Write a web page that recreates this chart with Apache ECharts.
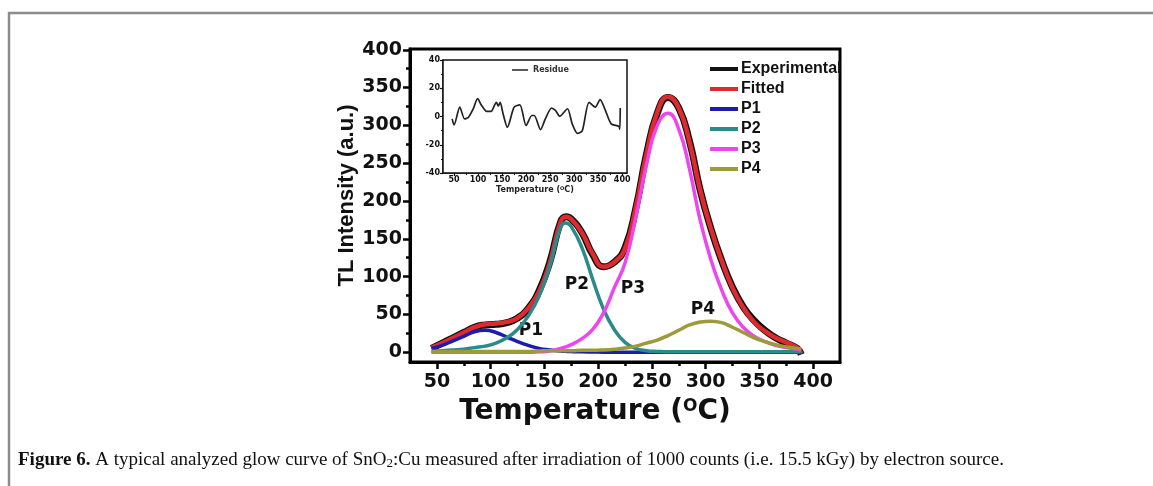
<!DOCTYPE html>
<html>
<head>
<meta charset="utf-8">
<script src="https://cdn.jsdelivr.net/npm/echarts@6/dist/echarts.min.js"></script>
<style>
  html, body { margin: 0; padding: 0; background: #fff; }
  #chart { width: 1153px; height: 486px; }
</style>
</head>
<body>
<div id="chart"></div>
<script>
// temperature grid (deg C)
const temps = [45, 55, 65, 75, 85, 95, 105, 115, 125, 135, 145, 155, 165, 170, 175, 185, 195, 205, 215, 225, 235,
  245, 255, 265, 275, 285, 295, 305, 315, 325, 335, 345, 355, 365, 375, 385, 389];

const experimental = [5, 12, 19, 26, 33, 36, 37, 39, 45, 58, 81, 119, 172, 179, 176, 158, 129, 113, 119, 138, 190,
  262, 316, 337, 323, 279, 214, 163, 121, 86, 60, 42, 29, 19, 12, 5, -3];
const fitted = [6, 12, 19, 26, 33, 37, 38, 40, 45, 58, 80, 118, 172, 179, 176, 158, 130, 113, 119, 137, 191,
  262, 317, 338, 323, 278, 214, 163, 121, 85, 59, 40, 28, 19, 13, 6, -2];
const p1 = [5, 9, 15, 21, 27, 29, 26, 20, 14, 9, 5, 3, 1.5, 1.1, 0.8, 0.4, 0.2, 0, 0, 0, 0,
  0, 0, 0, 0, 0, 0, 0, 0, 0, 0, 0, 0, 0, 0, 0, 0];
const p2 = [1, 2, 3, 4, 6, 8, 12, 19, 30, 48, 74, 113, 165, 171, 166, 138, 96, 57, 30, 13, 5,
  2, 1, 0.5, 0.5, 0.5, 0.5, 0.5, 0.5, 0.5, 0.5, 0.5, 0.5, 0.5, 0.5, 0.5, 0.5];
const p3 = [0, 0, 0, 0, 0, 0, 0, 0, 0, 0, 0.5, 1.5, 5, 7, 10, 18, 30, 52, 85, 118, 178,
  248, 300, 316, 295, 242, 174, 122, 82, 52, 33, 21, 14, 9, 6, 4, 3];
const p4 = [1, 1, 1, 1, 1, 1, 1, 1, 1, 1, 1.5, 2, 2, 2, 2, 2.5, 2.5, 3, 4, 5.5, 8,
  12, 16, 22, 29, 36, 40, 41, 39, 33, 26, 19, 14, 10, 7, 5, 4];

// inset: residue
const resTemps = [46, 50, 62, 72, 80, 90, 99, 107, 118, 127, 138, 142, 146, 152, 161, 175, 187, 200, 212, 217,
  230, 240, 253, 261, 270, 286, 296, 307, 317, 331, 344, 354, 365, 377, 393, 395, 396];
const residue = [-1.7, -6, 6.6, -1.7, -0.5, 5.5, 12.6, 8, 3.6, 3.6, 10, 7.4, 10, 2, -7.6, 6.6, 8.3, -6.4, 0.7, 0.7,
  -9.3, -1.7, 6, 4.3, 0.2, 5.5, -5.2, -12, -10, 10, 6.6, 12, 4.3, -5.2, -7, -9, 6];

const xTicks = [50, 100, 150, 200, 250, 300, 350, 400];
const xMinor = [75, 125, 175, 225, 275, 325, 375];
const yTicks = [0, 50, 100, 150, 200, 250, 300, 350, 400];
const yMinor = [25, 75, 125, 175, 225, 275, 325, 375];
const insetYTicks = [-40, -20, 0, 20, 40];
const insetYMinor = [-30, -10, 10, 30];

const names = ['Experimental', 'Fitted', 'P1', 'P2', 'P3', 'P4'];
const colors = ['#111111', '#de2a2e', '#1c1cae', '#2b8a8a', '#ee46ee', '#9d9a3a'];
const widths = [7, 4.5, 3.5, 3.5, 3.5, 3.5];
const curves = [experimental, fitted, p1, p2, p3, p4];

const pair = (xs, ys) => xs.map((x, i) => [x, ys[i]]);

const chart = echarts.init(document.getElementById('chart'), null, { renderer: 'canvas' });

const tickFont = { fontFamily: 'DejaVu Sans', fontWeight: 'bold', color: '#111' };
const supRich = {
  sup: { fontSize: 17, fontWeight: 'bold', fontFamily: 'DejaVu Sans', verticalAlign: 'top', color: '#111', padding: [0, 0, 11, 0] }
};

const series = curves.map((d, i) => ({
  name: names[i],
  type: 'line',
  xAxisIndex: 0,
  yAxisIndex: 0,
  data: pair(temps, d),
  smooth: true,
  symbol: 'none',
  lineStyle: { color: colors[i], width: widths[i] },
  itemStyle: { color: colors[i] },
  z: 2 + i
}));

series.push({
  name: 'Residue',
  type: 'line',
  xAxisIndex: 2,
  yAxisIndex: 2,
  data: pair(resTemps, residue),
  smooth: 0.25,
  symbol: 'none',
  lineStyle: { color: '#222', width: 1.7 },
  itemStyle: { color: '#222' },
  z: 20
});

chart.setOption({
  backgroundColor: '#fff',
  animation: false,
  grid: [
    { left: 410, top: 49, width: 430, height: 313, show: true, borderColor: '#000', borderWidth: 3, z: 1 },
    { left: 443, top: 60, width: 184, height: 113, show: true, borderColor: '#111', borderWidth: 1.5, backgroundColor: '#fff', z: 10 }
  ],
  legend: [
    {
      data: names,
      orient: 'vertical',
      left: 705,
      top: 56,
      itemWidth: 28,
      itemHeight: 14,
      itemGap: 4,
      icon: 'path://M0,5 L28,5 L28,9 L0,9 Z',
      textStyle: { fontFamily: 'Liberation Sans', fontWeight: 'bold', fontSize: 16, color: '#111', padding: [0, 0, 0, -2] }
    },
    {
      data: ['Residue'],
      left: 507,
      top: 61,
      itemWidth: 16,
      itemHeight: 10,
      icon: 'path://M0,4 L16,4 L16,5.5 L0,5.5 Z',
      textStyle: { fontFamily: 'DejaVu Sans', fontWeight: 'bold', fontSize: 8, color: '#333' },
      z: 30
    }
  ],
  xAxis: [
    {
      gridIndex: 0, type: 'value', min: 25, max: 425, position: 'bottom',
      axisLine: { onZero: false, lineStyle: { color: '#000', width: 3 } },
      axisTick: { customValues: xTicks, length: 7, lineStyle: { width: 2.5, color: '#000' } },
      axisLabel: Object.assign({ customValues: xTicks, fontSize: 19, margin: 11 }, tickFont),
      splitLine: { show: false },
      name: 'Temperature ({sup|O}C)',
      nameLocation: 'middle',
      nameGap: 36,
      nameTextStyle: { fontFamily: 'DejaVu Sans', fontWeight: 'bold', fontSize: 28, color: '#111', rich: supRich, padding: [0, 60, 0, 0] }
    },
    {
      gridIndex: 0, type: 'value', min: 25, max: 425, position: 'bottom',
      axisLine: { show: false, onZero: false },
      axisTick: { customValues: xMinor, length: 4, lineStyle: { width: 2.5, color: '#000' } },
      axisLabel: { show: false },
      splitLine: { show: false }
    },
    {
      gridIndex: 1, type: 'value', min: 27, max: 410, position: 'bottom',
      axisLine: { onZero: false, lineStyle: { color: '#111', width: 1.5 } },
      axisTick: { customValues: xTicks, length: 3, lineStyle: { width: 1.2, color: '#111' } },
      axisLabel: Object.assign({ customValues: xTicks, fontSize: 8, margin: 3 }, tickFont),
      splitLine: { show: false },
      name: 'Temperature ({sup|O}C)',
      nameLocation: 'middle',
      nameGap: 13,
      nameTextStyle: {
        fontFamily: 'DejaVu Sans', fontWeight: 'bold', fontSize: 8, color: '#222',
        rich: { sup: { fontSize: 5, fontWeight: 'bold', fontFamily: 'DejaVu Sans', verticalAlign: 'top', padding: [0, 0, 3, 0] } }
      }
    },
    {
      gridIndex: 1, type: 'value', min: 27, max: 410, position: 'bottom',
      axisLine: { show: false, onZero: false },
      axisTick: { customValues: xMinor, length: 2, lineStyle: { width: 1, color: '#111' } },
      axisLabel: { show: false },
      splitLine: { show: false }
    }
  ],
  yAxis: [
    {
      gridIndex: 0, type: 'value', min: -13, max: 401, position: 'left',
      axisLine: { onZero: false, lineStyle: { color: '#000', width: 3 } },
      axisTick: { customValues: yTicks, length: 7, lineStyle: { width: 2.5, color: '#000' } },
      axisLabel: Object.assign({ customValues: yTicks, fontSize: 19, margin: 8 }, tickFont),
      splitLine: { show: false },
      name: 'TL Intensity (a.u.)',
      nameLocation: 'middle',
      nameGap: 52,
      nameTextStyle: { fontFamily: 'Liberation Sans', fontWeight: 'bold', fontSize: 22, color: '#111', padding: [0, 0, 0, 20] }
    },
    {
      gridIndex: 0, type: 'value', min: -13, max: 401, position: 'left',
      axisLine: { show: false, onZero: false },
      axisTick: { customValues: yMinor, length: 4, lineStyle: { width: 2.5, color: '#000' } },
      axisLabel: { show: false },
      splitLine: { show: false }
    },
    {
      gridIndex: 1, type: 'value', min: -40, max: 40, position: 'left',
      axisLine: { onZero: false, lineStyle: { color: '#111', width: 1.5 } },
      axisTick: { customValues: insetYTicks, length: 3, lineStyle: { width: 1.2, color: '#111' } },
      axisLabel: Object.assign({ customValues: insetYTicks, fontSize: 8, margin: 3 }, tickFont),
      splitLine: { show: false }
    },
    {
      gridIndex: 1, type: 'value', min: -40, max: 40, position: 'left',
      axisLine: { show: false, onZero: false },
      axisTick: { customValues: insetYMinor, length: 2, lineStyle: { width: 1, color: '#111' } },
      axisLabel: { show: false },
      splitLine: { show: false }
    }
  ],
  series: series,
  graphic: [
    {
      type: 'polyline',
      shape: { points: [[9, 486], [9, 13], [1153, 13]] },
      style: { stroke: '#8c8c8c', lineWidth: 2.5, fill: null },
      silent: true
    },
    { type: 'text', x: 531, y: 331, style: { text: 'P1', font: 'bold 17px "DejaVu Sans"', fill: '#111', align: 'center', verticalAlign: 'middle' }, z: 5 },
    { type: 'text', x: 577, y: 285, style: { text: 'P2', font: 'bold 17px "DejaVu Sans"', fill: '#111', align: 'center', verticalAlign: 'middle' }, z: 5 },
    { type: 'text', x: 633, y: 289, style: { text: 'P3', font: 'bold 17px "DejaVu Sans"', fill: '#111', align: 'center', verticalAlign: 'middle' }, z: 5 },
    { type: 'text', x: 703, y: 310, style: { text: 'P4', font: 'bold 17px "DejaVu Sans"', fill: '#111', align: 'center', verticalAlign: 'middle' }, z: 5 },
    {
      type: 'text', x: 18, y: 460,
      style: {
        text: '{b|Figure 6.} A typical analyzed glow curve of SnO{sub|2}:Cu measured after irradiation of 1000 counts (i.e. 15.5 kGy) by electron source.',
        font: '19px "Liberation Serif"',
        fill: '#111',
        verticalAlign: 'middle',
        rich: {
          b: { fontWeight: 'bold', fontFamily: 'Liberation Serif', fontSize: 19 },
          sub: { fontFamily: 'Liberation Serif', fontSize: 13, verticalAlign: 'bottom', padding: [7, 0, 0, 0] }
        }
      }
    }
  ]
});
</script>
</body>
</html>
